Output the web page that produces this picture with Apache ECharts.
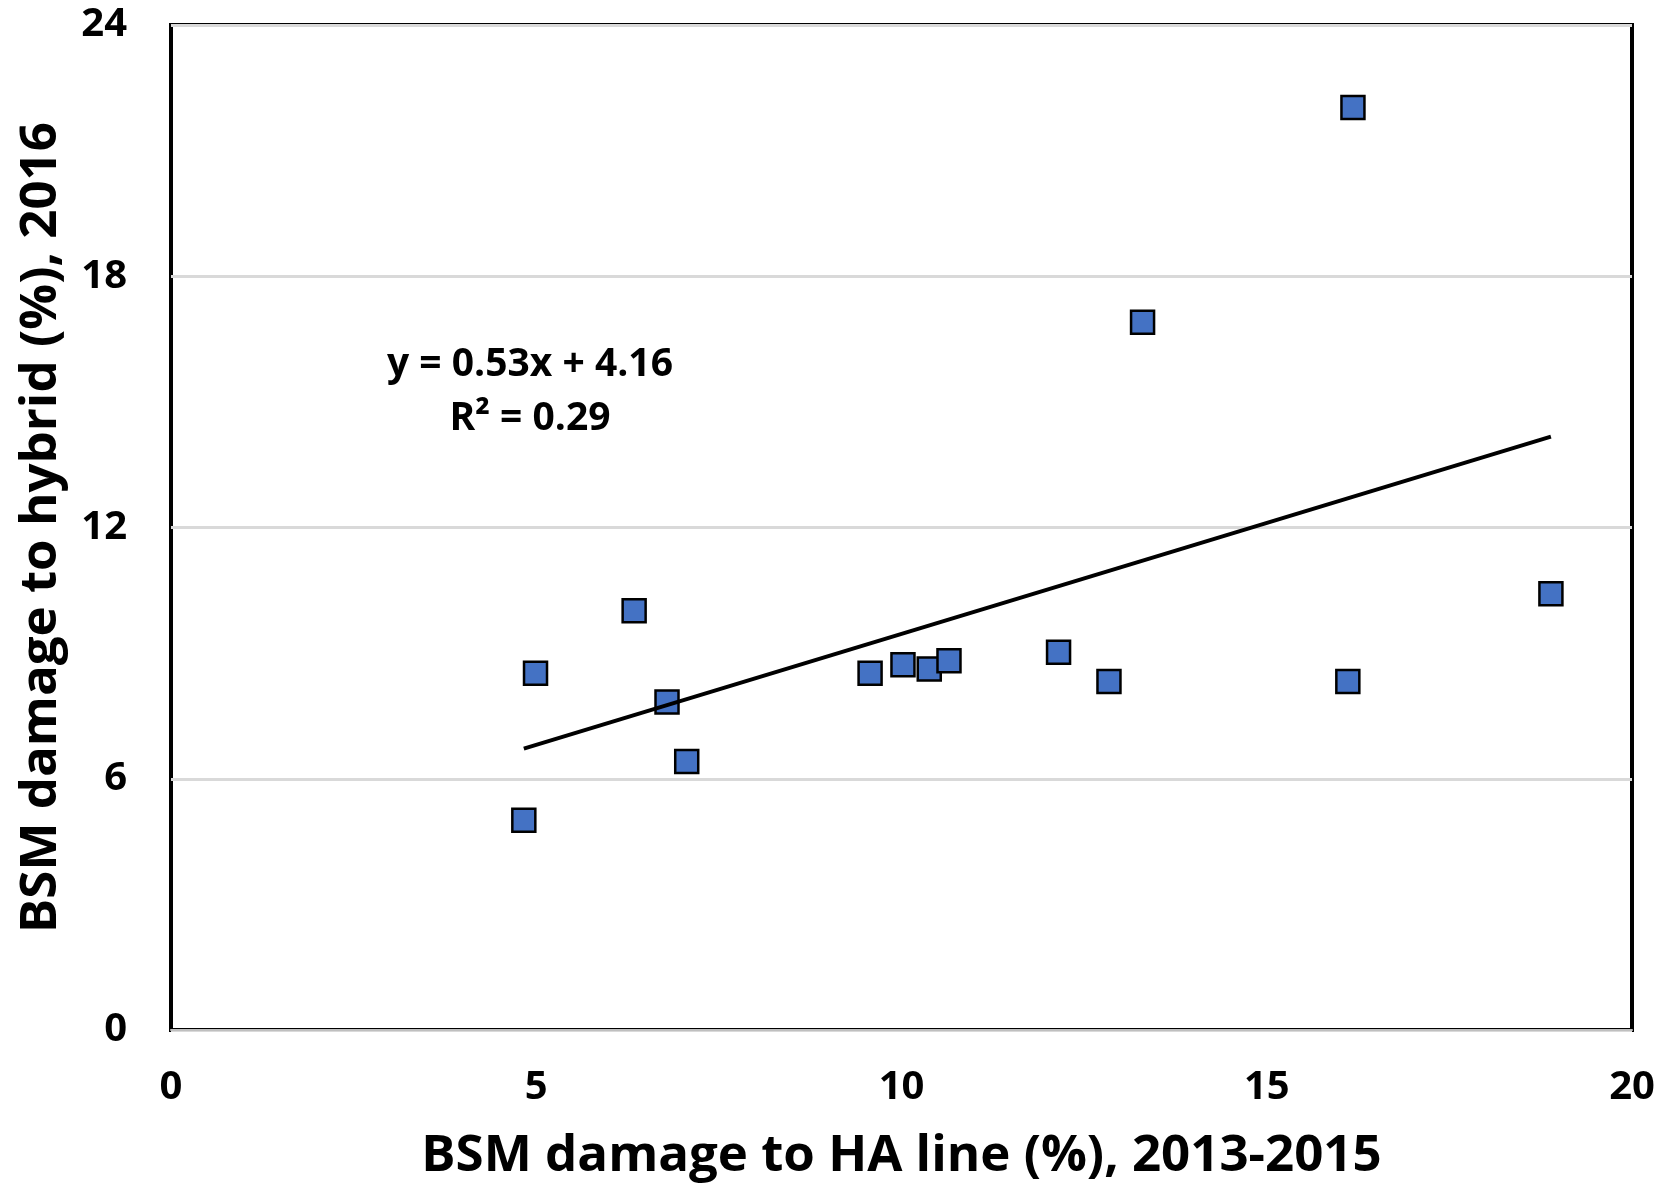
<!DOCTYPE html>
<html>
<head>
<meta charset="utf-8">
<script src="https://cdn.jsdelivr.net/npm/echarts@6/dist/echarts.min.js"></script>
<style>
html,body{margin:0;padding:0;background:#fff;}
#chart{width:1672px;height:1189px;}
</style>
</head>
<body>
<div id="chart"></div>
<script>
// Data
const xValues = [4.83, 4.99, 6.34, 6.79, 7.06, 9.57, 10.02, 10.38, 10.65, 12.15, 12.84, 13.30, 16.11, 16.18, 18.89];
const yValues = [5.01, 8.52, 10.01, 7.83, 6.41, 8.52, 8.72, 8.62, 8.82, 9.02, 8.32, 16.90, 8.32, 22.03, 10.42];
const trendX = [4.83, 18.89];
const trendY = [6.72, 14.17];
const xTicks = [0, 5, 10, 15, 20];
const yTicks = [0, 6, 12, 18, 24];
const equationText = 'y = 0.53x + 4.16';
const r2Text = 'R² = 0.29';
const xTitle = 'BSM damage to HA line (%), 2013-2015';
const yTitle = 'BSM damage to hybrid (%), 2016';

const FONT = '"Open Sans", "Noto Sans", sans-serif';
const points = xValues.map((x, i) => [x, yValues[i]]);
const trend = trendX.map((x, i) => [x, trendY[i]]);

const chart = echarts.init(document.getElementById('chart'));
chart.setOption({
  animation: false,
  backgroundColor: '#ffffff',
  grid: {
    left: 171, right: 40, top: 25, bottom: 159,
    containLabel: false, outerBoundsMode: 'none',
    show: true, borderColor: '#000', borderWidth: 4, backgroundColor: 'transparent'
  },
  xAxis: {
    type: 'value', min: xTicks[0], max: xTicks[xTicks.length - 1], interval: 5,
    name: xTitle, nameLocation: 'middle', nameGap: 101,
    nameTextStyle: { fontFamily: FONT, fontWeight: 'bold', fontSize: 51, color: '#000' },
    axisLine: { show: true, onZero: false, lineStyle: { color: '#bfbfbf', width: 2 } },
    axisTick: { show: false },
    splitLine: { show: false },
    axisLabel: {
      margin: 38, fontFamily: FONT, fontWeight: 'bold', fontSize: 40, color: '#000'
    }
  },
  yAxis: {
    type: 'value', min: yTicks[0], max: yTicks[yTicks.length - 1], interval: 6,
    name: yTitle, nameLocation: 'middle', nameGap: 104,
    nameTextStyle: { fontFamily: FONT, fontWeight: 'bold', fontSize: 51, color: '#000' },
    axisLine: { show: false },
    axisTick: { show: false },
    splitLine: { show: true, lineStyle: { color: '#d9d9d9', width: 3 } },
    axisLabel: {
      margin: 44, fontFamily: FONT, fontWeight: 'bold', fontSize: 40, color: '#000'
    }
  },
  graphic: [
    { type: 'text', x: 530, y: 365, style: {
      text: equationText, x: 0, y: 0, align: 'center', verticalAlign: 'middle',
      font: 'bold 39px ' + FONT, fill: '#000' }, z: 100 },
    { type: 'text', x: 530, y: 419, style: {
      text: r2Text, x: 0, y: 0, align: 'center', verticalAlign: 'middle',
      font: 'bold 39px ' + FONT, fill: '#000' }, z: 100 }
  ],
  series: [
    {
      type: 'line', data: trend, symbol: 'none', silent: true,
      lineStyle: { color: '#000', width: 4 }, z: 3
    },
    {
      type: 'scatter', data: points, symbol: 'rect', symbolSize: 23,
      itemStyle: { color: '#4472C4', borderColor: '#000', borderWidth: 2.5, opacity: 1 }, z: 2
    }
  ]
});
</script>
</body>
</html>
